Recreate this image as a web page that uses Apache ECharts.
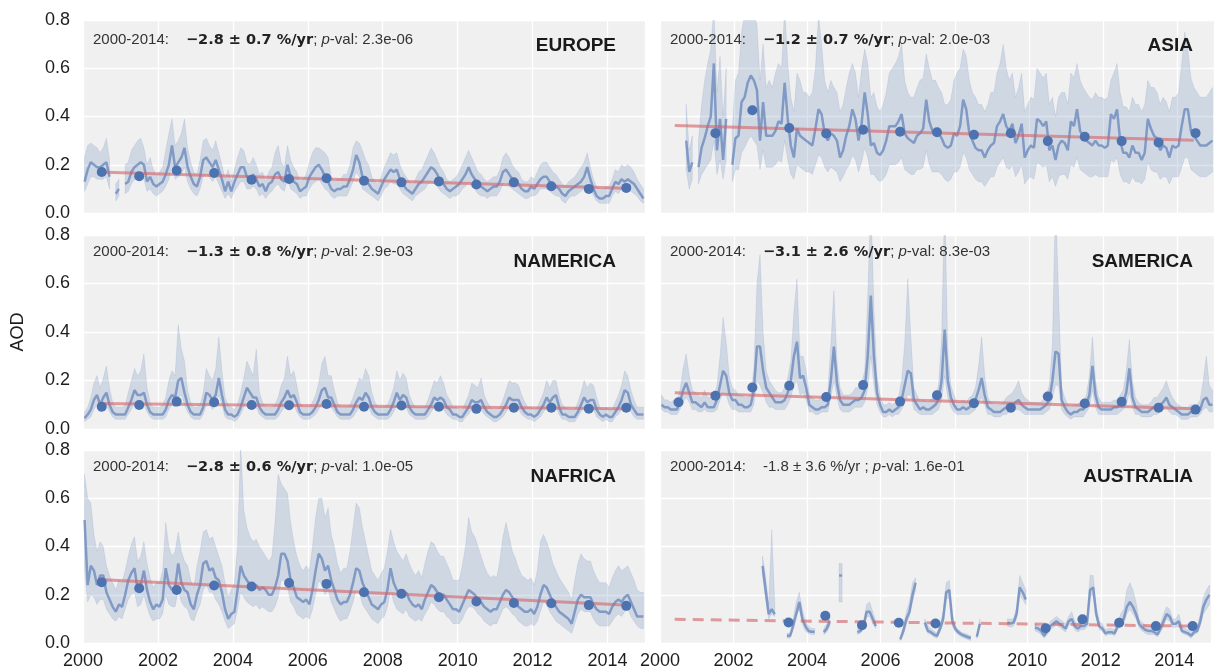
<!DOCTYPE html>
<html><head><meta charset="utf-8">
<script src="https://cdn.jsdelivr.net/npm/echarts@6/dist/echarts.min.js"></script>
<style>html,body{margin:0;padding:0;background:#fff}#c{width:1214px;height:671px}</style>
</head><body><div id="c"></div>
<script>
const N = null;
const xTickYears = [2000, 2002, 2004, 2006, 2008, 2010, 2012, 2014];
const yTicks = [0.0, 0.2, 0.4, 0.6, 0.8];
const dotYears = [2000.5,2001.5,2002.5,2003.5,2004.5,2005.5,2006.5,2007.5,2008.5,2009.5,2010.5,2011.5,2012.5,2013.5,2014.5];
const trendYears = [2000.4, 2014.45];

const regions = ['EUROPE','ASIA','NAMERICA','SAMERICA','NAFRICA','AUSTRALIA'];
const trendTexts = ['−2.8 ± 0.7 %/yr','−1.2 ± 0.7 %/yr','−1.3 ± 0.8 %/yr','−3.1 ± 2.6 %/yr','−2.8 ± 0.6 %/yr','-1.8 ± 3.6 %/yr'];
const pvalTexts = ['2.3e-06','2.0e-03','2.9e-03','8.3e-03','1.0e-05','1.6e-01'];
const significant = [true,true,true,true,true,false];

// ---------- EUROPE ----------
const eurMean = [
0.13,0.18,0.21,0.20,0.19,0.19,0.20,0.21,0.15,N,0.08,0.10,
N,0.12,0.13,0.17,0.19,0.20,0.21,0.20,0.13,0.15,0.12,0.11,
0.12,0.13,0.16,0.20,0.28,0.19,0.21,0.23,0.27,0.19,0.15,0.12,
0.11,0.15,0.22,0.23,0.21,0.19,0.22,0.18,0.14,0.09,0.13,0.09,
0.13,0.16,0.19,0.19,0.15,0.14,0.16,0.14,0.11,0.12,0.09,0.12,
0.13,0.16,0.17,0.14,0.13,0.20,0.15,0.13,0.12,0.09,0.10,0.11,
0.15,0.17,0.19,0.20,0.18,0.15,0.13,0.10,0.09,0.10,0.10,0.11,
0.11,0.14,0.18,0.24,0.21,0.15,0.13,0.12,0.10,0.09,0.08,0.11,
0.14,0.16,0.18,0.17,0.18,0.14,0.12,0.10,0.09,0.08,0.10,0.12,
0.13,0.15,0.17,0.19,0.18,0.16,0.13,0.12,0.10,0.09,0.10,0.11,
0.12,0.14,0.16,0.19,0.16,0.14,0.12,0.11,0.10,0.09,0.10,0.11,
0.11,0.13,0.17,0.18,0.16,0.14,0.13,0.12,0.10,0.09,0.09,0.11,
0.10,0.12,0.14,0.15,0.15,0.13,0.12,0.11,0.10,0.08,0.07,0.09,
0.10,0.11,0.12,0.13,0.15,0.19,0.14,0.10,0.07,0.06,0.06,0.07,
0.07,0.10,0.13,0.12,0.14,0.13,0.14,0.13,0.12,0.10,0.08,0.06];
const eurUp = [
0.23,0.28,0.29,0.28,0.27,0.25,0.27,0.31,0.22,N,0.12,0.14,
N,0.20,0.21,0.26,0.28,0.30,0.31,0.27,0.20,0.23,0.18,0.16,
0.17,0.19,0.26,0.33,0.39,0.28,0.30,0.33,0.39,0.27,0.21,0.17,
0.16,0.22,0.30,0.31,0.28,0.26,0.30,0.25,0.20,0.14,0.18,0.13,
0.18,0.23,0.27,0.26,0.21,0.20,0.23,0.20,0.16,0.17,0.13,0.17,
0.19,0.25,0.28,0.21,0.19,0.28,0.22,0.19,0.17,0.13,0.14,0.16,
0.21,0.25,0.27,0.27,0.26,0.25,0.23,0.15,0.13,0.14,0.14,0.16,
0.16,0.20,0.27,0.30,0.29,0.26,0.22,0.20,0.15,0.13,0.12,0.15,
0.19,0.22,0.25,0.24,0.25,0.20,0.17,0.15,0.13,0.12,0.14,0.17,
0.18,0.21,0.24,0.27,0.25,0.22,0.19,0.17,0.14,0.13,0.14,0.15,
0.17,0.20,0.23,0.26,0.23,0.20,0.17,0.16,0.14,0.13,0.14,0.15,
0.15,0.18,0.23,0.25,0.23,0.20,0.18,0.17,0.14,0.13,0.13,0.15,
0.14,0.17,0.20,0.21,0.21,0.19,0.17,0.16,0.14,0.12,0.11,0.13,
0.14,0.15,0.17,0.19,0.21,0.25,0.19,0.14,0.11,0.10,0.10,0.11,
0.11,0.14,0.18,0.17,0.20,0.19,0.20,0.19,0.17,0.14,0.12,0.10];
const eurLo = [
0.09,0.12,0.15,0.15,0.14,0.14,0.14,0.15,0.10,N,0.05,0.07,
N,0.08,0.09,0.12,0.14,0.14,0.15,0.14,0.09,0.10,0.08,0.07,
0.08,0.09,0.11,0.14,0.20,0.14,0.15,0.16,0.19,0.13,0.10,0.08,
0.07,0.10,0.15,0.16,0.15,0.13,0.15,0.12,0.09,0.06,0.08,0.06,
0.09,0.11,0.13,0.13,0.10,0.10,0.11,0.10,0.07,0.08,0.06,0.08,
0.09,0.11,0.12,0.10,0.09,0.14,0.10,0.09,0.08,0.06,0.07,0.07,
0.10,0.12,0.13,0.14,0.12,0.10,0.09,0.07,0.06,0.07,0.07,0.07,
0.07,0.10,0.13,0.17,0.15,0.10,0.09,0.08,0.07,0.06,0.05,0.07,
0.10,0.11,0.13,0.12,0.12,0.10,0.08,0.07,0.06,0.05,0.07,0.08,
0.09,0.10,0.12,0.13,0.12,0.11,0.09,0.08,0.07,0.06,0.07,0.07,
0.08,0.10,0.11,0.13,0.11,0.10,0.08,0.07,0.07,0.06,0.07,0.07,
0.07,0.09,0.12,0.13,0.11,0.10,0.09,0.08,0.07,0.06,0.06,0.07,
0.07,0.08,0.10,0.10,0.10,0.09,0.08,0.07,0.07,0.05,0.04,0.06,
0.07,0.07,0.08,0.09,0.10,0.13,0.10,0.07,0.05,0.04,0.04,0.04,
0.04,0.07,0.09,0.08,0.10,0.09,0.10,0.09,0.08,0.07,0.05,0.04];
const eurDots = [0.170,0.152,0.176,0.166,0.138,0.141,0.144,0.134,0.127,0.131,0.118,0.127,0.111,0.100,0.104];
const eurTrend = [0.170, 0.103];

// ---------- ASIA ----------
const asiaMean = [
N,N,N,N,N,N,N,N,0.30,0.17,0.21,N,
0.19,0.27,0.31,0.36,0.40,0.62,0.26,0.39,0.22,0.39,N,0.20,
0.31,0.32,0.46,0.48,0.54,0.57,0.55,0.51,0.30,0.46,0.32,0.32,
0.32,0.34,0.38,0.37,0.54,0.39,0.28,0.23,0.35,0.32,0.31,0.30,
0.29,0.28,0.35,0.43,0.41,0.33,0.30,0.33,0.32,0.30,0.23,0.26,
0.32,0.36,0.43,0.39,0.30,0.37,0.50,0.41,0.28,0.29,0.25,0.24,
0.26,0.30,0.36,0.36,0.36,0.38,0.41,0.33,0.31,0.30,0.29,0.32,
0.33,0.35,0.47,0.38,0.34,0.33,0.33,0.31,0.28,0.27,0.28,0.33,
0.32,0.36,0.47,0.43,0.33,0.30,0.27,0.26,0.26,0.23,0.26,0.28,
0.29,0.36,0.38,0.41,0.36,0.34,0.37,0.29,0.32,0.37,0.23,0.26,
0.28,0.27,0.39,0.38,0.36,0.38,0.26,0.28,0.22,0.28,0.30,0.29,
0.26,0.38,0.36,0.43,0.34,0.32,0.30,0.29,0.28,0.30,0.28,0.28,
0.27,0.28,0.41,0.39,0.43,0.30,0.25,0.25,0.23,0.28,0.25,0.25,
0.22,0.25,0.39,0.35,0.32,0.31,0.26,0.28,0.27,0.23,0.28,0.27,
0.28,0.36,0.43,0.43,0.34,0.32,0.30,0.28,0.28,0.28,0.29,0.30];
const asiaUp = [
N,N,N,N,N,N,N,N,0.45,0.26,0.32,N,
0.30,0.45,0.55,0.62,0.68,0.85,0.50,0.65,0.40,0.60,N,0.35,
0.55,0.58,0.75,0.82,0.80,0.85,0.82,0.78,0.55,0.70,0.52,0.55,
0.52,0.58,0.62,0.60,0.85,0.62,0.48,0.42,0.58,0.55,0.50,0.50,
0.48,0.50,0.60,0.82,0.70,0.55,0.50,0.55,0.52,0.50,0.42,0.45,
0.52,0.58,0.62,0.58,0.48,0.60,0.68,0.62,0.48,0.50,0.44,0.42,
0.45,0.50,0.58,0.60,0.62,0.65,0.70,0.55,0.50,0.48,0.48,0.52,
0.55,0.56,0.66,0.60,0.55,0.55,0.52,0.50,0.45,0.45,0.47,0.55,
0.58,0.60,0.68,0.65,0.55,0.50,0.48,0.45,0.45,0.42,0.45,0.50,
0.50,0.58,0.62,0.70,0.60,0.55,0.58,0.48,0.52,0.58,0.42,0.45,
0.48,0.47,0.60,0.58,0.56,0.58,0.45,0.48,0.40,0.48,0.50,0.50,
0.45,0.58,0.56,0.62,0.55,0.52,0.50,0.48,0.47,0.50,0.48,0.48,
0.47,0.48,0.55,0.58,0.62,0.50,0.44,0.44,0.42,0.48,0.45,0.45,
0.42,0.45,0.55,0.52,0.52,0.50,0.45,0.48,0.46,0.42,0.48,0.48,
0.50,0.62,0.75,0.68,0.56,0.52,0.50,0.48,0.48,0.48,0.50,0.52];
const asiaLo = [
N,N,N,N,N,N,N,N,0.18,0.10,0.14,N,
0.12,0.16,0.18,0.20,0.22,0.30,0.16,0.22,0.14,0.22,N,0.13,
0.18,0.18,0.25,0.27,0.30,0.32,0.30,0.28,0.18,0.26,0.19,0.19,
0.19,0.20,0.22,0.21,0.30,0.22,0.16,0.14,0.20,0.19,0.18,0.17,
0.17,0.16,0.20,0.24,0.23,0.19,0.17,0.19,0.18,0.17,0.13,0.15,
0.18,0.20,0.24,0.22,0.17,0.21,0.27,0.23,0.16,0.16,0.14,0.13,
0.14,0.16,0.20,0.20,0.20,0.21,0.23,0.18,0.17,0.16,0.16,0.18,
0.18,0.19,0.26,0.20,0.17,0.17,0.17,0.16,0.14,0.13,0.14,0.17,
0.17,0.19,0.25,0.23,0.18,0.16,0.14,0.13,0.13,0.11,0.13,0.15,
0.15,0.19,0.21,0.23,0.19,0.18,0.20,0.15,0.17,0.20,0.12,0.14,
0.15,0.14,0.21,0.20,0.19,0.20,0.13,0.15,0.11,0.15,0.16,0.16,
0.14,0.20,0.19,0.23,0.18,0.17,0.16,0.15,0.15,0.16,0.15,0.15,
0.15,0.15,0.22,0.21,0.23,0.16,0.13,0.13,0.12,0.15,0.13,0.13,
0.12,0.14,0.21,0.18,0.17,0.17,0.14,0.15,0.15,0.12,0.15,0.15,
0.15,0.19,0.23,0.23,0.18,0.17,0.16,0.15,0.15,0.15,0.16,0.17];
const asiaDots = [N,0.331,0.426,0.352,0.330,0.345,0.337,0.335,0.324,0.331,0.298,0.316,0.298,0.292,0.331];
const asiaTrend = [0.363, 0.302];

// ---------- NAMERICA ----------
const namMean = [
0.045,0.06,0.08,0.12,0.14,0.10,0.13,0.15,0.10,0.07,0.06,0.06,
0.06,0.06,0.09,0.12,0.16,0.14,0.14,0.15,0.10,0.07,0.06,0.06,
0.06,0.06,0.08,0.12,0.14,0.13,0.20,0.21,0.15,0.10,0.07,0.06,
0.06,0.06,0.09,0.15,0.14,0.12,0.14,0.21,0.14,0.08,0.06,0.06,
0.05,0.06,0.09,0.13,0.17,0.15,0.13,0.13,0.09,0.07,0.06,0.06,
0.06,0.06,0.08,0.11,0.13,0.16,0.13,0.14,0.11,0.07,0.06,0.06,
0.06,0.07,0.09,0.12,0.16,0.17,0.13,0.13,0.10,0.07,0.06,0.06,
0.06,0.06,0.08,0.11,0.13,0.12,0.15,0.13,0.09,0.07,0.06,0.06,
0.06,0.06,0.08,0.11,0.15,0.12,0.14,0.13,0.09,0.07,0.06,0.06,
0.06,0.06,0.08,0.10,0.13,0.12,0.13,0.12,0.09,0.08,0.06,0.06,
0.05,0.05,0.07,0.09,0.12,0.11,0.11,0.12,0.09,0.07,0.06,0.05,
0.05,0.06,0.08,0.10,0.13,0.12,0.12,0.12,0.09,0.07,0.06,0.06,
0.05,0.06,0.08,0.10,0.13,0.11,0.13,0.14,0.09,0.06,0.06,0.05,
0.05,0.05,0.07,0.10,0.13,0.11,0.12,0.12,0.08,0.06,0.05,0.06,
0.05,0.05,0.07,0.09,0.12,0.16,0.15,0.10,0.08,0.06,0.06,0.06];
const namUp = [
0.07,0.09,0.13,0.19,0.22,0.17,0.21,0.26,0.17,0.11,0.09,0.09,
0.09,0.10,0.15,0.20,0.25,0.22,0.24,0.31,0.17,0.11,0.09,0.09,
0.09,0.10,0.13,0.20,0.24,0.22,0.43,0.33,0.28,0.16,0.11,0.09,
0.09,0.10,0.15,0.25,0.22,0.20,0.25,0.38,0.24,0.13,0.10,0.09,
0.08,0.10,0.15,0.21,0.28,0.25,0.22,0.33,0.15,0.11,0.09,0.09,
0.09,0.10,0.13,0.18,0.21,0.30,0.22,0.24,0.18,0.11,0.09,0.09,
0.09,0.11,0.14,0.19,0.27,0.30,0.22,0.22,0.16,0.11,0.09,0.09,
0.09,0.10,0.13,0.17,0.21,0.20,0.25,0.22,0.15,0.11,0.09,0.09,
0.09,0.10,0.13,0.17,0.24,0.20,0.23,0.21,0.14,0.11,0.09,0.09,
0.09,0.09,0.12,0.16,0.20,0.19,0.22,0.19,0.14,0.12,0.09,0.09,
0.08,0.08,0.11,0.14,0.19,0.18,0.17,0.21,0.14,0.11,0.09,0.08,
0.08,0.09,0.12,0.16,0.20,0.19,0.19,0.18,0.14,0.11,0.09,0.09,
0.08,0.09,0.12,0.15,0.20,0.17,0.20,0.20,0.14,0.10,0.09,0.08,
0.08,0.08,0.11,0.15,0.20,0.17,0.19,0.18,0.13,0.09,0.08,0.09,
0.08,0.08,0.11,0.14,0.18,0.24,0.22,0.16,0.12,0.09,0.09,0.09];
const namLo = [
0.03,0.04,0.05,0.08,0.10,0.07,0.09,0.10,0.07,0.05,0.04,0.04,
0.04,0.04,0.06,0.08,0.11,0.10,0.10,0.10,0.07,0.05,0.04,0.04,
0.04,0.04,0.05,0.08,0.10,0.09,0.13,0.14,0.10,0.07,0.05,0.04,
0.04,0.04,0.06,0.10,0.10,0.08,0.10,0.14,0.10,0.05,0.04,0.04,
0.03,0.04,0.06,0.09,0.12,0.10,0.09,0.09,0.06,0.05,0.04,0.04,
0.04,0.04,0.05,0.07,0.09,0.11,0.09,0.10,0.07,0.05,0.04,0.04,
0.04,0.05,0.06,0.08,0.11,0.12,0.09,0.09,0.07,0.05,0.04,0.04,
0.04,0.04,0.05,0.07,0.09,0.08,0.10,0.09,0.06,0.05,0.04,0.04,
0.04,0.04,0.05,0.07,0.10,0.08,0.10,0.09,0.06,0.05,0.04,0.04,
0.04,0.04,0.05,0.07,0.09,0.08,0.09,0.08,0.06,0.05,0.04,0.04,
0.03,0.03,0.05,0.06,0.08,0.07,0.07,0.08,0.06,0.05,0.04,0.03,
0.03,0.04,0.05,0.07,0.09,0.08,0.08,0.08,0.06,0.05,0.04,0.04,
0.03,0.04,0.05,0.07,0.09,0.07,0.09,0.09,0.06,0.04,0.04,0.03,
0.03,0.03,0.05,0.07,0.09,0.07,0.08,0.08,0.05,0.04,0.03,0.04,
0.03,0.03,0.05,0.06,0.08,0.11,0.10,0.07,0.05,0.04,0.04,0.04];
const namDots = [0.092,0.099,0.113,0.110,0.099,0.098,0.103,0.092,0.097,0.092,0.083,0.088,0.088,0.084,0.088];
const namTrend = [0.105, 0.083];

// ---------- SAMERICA ----------
const samMean = [
0.10,0.09,0.09,0.08,0.08,0.08,0.11,0.16,0.19,0.15,0.11,0.11,
0.10,0.09,0.11,0.09,0.09,0.09,0.12,0.18,0.24,0.22,0.15,0.12,
0.12,0.10,0.10,0.09,0.09,0.10,0.16,0.34,0.34,0.24,0.17,0.15,
0.13,0.11,0.11,0.11,0.12,0.15,0.20,0.30,0.36,0.21,0.22,0.17,
0.10,0.09,0.08,0.08,0.09,0.09,0.10,0.20,0.34,0.19,0.12,0.10,
0.10,0.10,0.11,0.12,0.12,0.13,0.16,0.30,0.55,0.30,0.15,0.10,
0.07,0.07,0.08,0.07,0.08,0.09,0.12,0.18,0.24,0.23,0.12,0.10,
0.08,0.09,0.08,0.08,0.09,0.10,0.12,0.20,0.41,0.20,0.13,0.10,
0.08,0.08,0.09,0.08,0.09,0.10,0.12,0.16,0.21,0.14,0.09,0.08,
0.07,0.07,0.07,0.08,0.09,0.10,0.10,0.11,0.12,0.10,0.09,0.08,
0.08,0.08,0.08,0.08,0.09,0.10,0.12,0.20,0.32,0.31,0.12,0.09,
0.07,0.06,0.07,0.07,0.08,0.08,0.10,0.14,0.26,0.14,0.09,0.08,
0.08,0.08,0.08,0.09,0.09,0.10,0.11,0.15,0.25,0.13,0.09,0.08,
0.07,0.07,0.07,0.08,0.09,0.09,0.10,0.11,0.13,0.10,0.09,0.08,
0.07,0.06,0.06,0.06,0.07,0.07,0.07,0.08,0.12,0.13,0.10,0.10];
const samUp = [
0.14,0.12,0.12,0.11,0.12,0.11,0.16,0.25,0.31,0.22,0.16,0.15,
0.14,0.13,0.16,0.13,0.13,0.13,0.18,0.30,0.46,0.36,0.22,0.17,
0.16,0.14,0.14,0.13,0.13,0.14,0.25,0.60,0.72,0.40,0.24,0.20,
0.18,0.16,0.15,0.15,0.17,0.21,0.28,0.48,0.62,0.30,0.30,0.24,
0.14,0.13,0.12,0.12,0.13,0.13,0.15,0.35,0.57,0.28,0.17,0.14,
0.14,0.14,0.15,0.17,0.17,0.19,0.24,0.55,0.95,0.50,0.22,0.14,
0.10,0.10,0.11,0.10,0.11,0.13,0.20,0.35,0.62,0.38,0.17,0.14,
0.11,0.12,0.11,0.11,0.13,0.14,0.18,0.38,0.95,0.32,0.18,0.14,
0.11,0.11,0.12,0.11,0.13,0.14,0.17,0.26,0.38,0.22,0.13,0.11,
0.10,0.10,0.10,0.11,0.13,0.14,0.15,0.17,0.20,0.15,0.13,0.12,
0.11,0.11,0.11,0.11,0.12,0.14,0.18,0.35,0.95,0.55,0.17,0.13,
0.10,0.09,0.10,0.10,0.11,0.11,0.14,0.22,0.38,0.20,0.13,0.11,
0.11,0.11,0.11,0.12,0.12,0.14,0.16,0.24,0.37,0.20,0.13,0.11,
0.10,0.10,0.10,0.11,0.13,0.13,0.15,0.17,0.20,0.16,0.13,0.11,
0.10,0.09,0.09,0.09,0.10,0.10,0.10,0.12,0.20,0.30,0.18,0.16];
const samLo = [
0.08,0.07,0.07,0.06,0.06,0.06,0.08,0.11,0.13,0.11,0.08,0.08,
0.07,0.07,0.08,0.07,0.07,0.07,0.08,0.12,0.15,0.14,0.10,0.08,
0.08,0.07,0.07,0.07,0.07,0.07,0.10,0.20,0.18,0.15,0.11,0.09,
0.09,0.08,0.08,0.08,0.08,0.10,0.13,0.18,0.20,0.14,0.15,0.12,
0.07,0.07,0.06,0.06,0.07,0.07,0.07,0.13,0.20,0.13,0.08,0.07,
0.07,0.07,0.08,0.09,0.09,0.09,0.11,0.17,0.30,0.18,0.10,0.07,
0.05,0.05,0.06,0.05,0.06,0.06,0.08,0.11,0.14,0.14,0.08,0.07,
0.06,0.06,0.06,0.06,0.06,0.07,0.08,0.12,0.22,0.13,0.09,0.07,
0.06,0.06,0.06,0.06,0.06,0.07,0.08,0.11,0.13,0.10,0.06,0.06,
0.05,0.05,0.05,0.06,0.06,0.07,0.07,0.08,0.08,0.07,0.06,0.06,
0.06,0.06,0.06,0.06,0.06,0.07,0.08,0.13,0.18,0.18,0.08,0.06,
0.05,0.04,0.05,0.05,0.05,0.05,0.07,0.09,0.16,0.09,0.06,0.06,
0.06,0.06,0.06,0.06,0.06,0.07,0.08,0.10,0.15,0.09,0.06,0.06,
0.05,0.05,0.05,0.05,0.06,0.06,0.07,0.08,0.09,0.07,0.06,0.06,
0.05,0.04,0.04,0.04,0.05,0.05,0.05,0.06,0.08,0.09,0.07,0.07];
const samDots = [0.110,0.137,0.171,0.178,0.132,0.181,0.113,0.139,0.106,0.088,0.134,0.105,0.112,0.088,0.080];
const samTrend = [0.149, 0.084];

// ---------- NAFRICA ----------
const nafMean = [
0.51,0.24,0.32,0.30,0.24,0.28,0.28,0.21,0.18,0.15,0.13,0.16,
0.15,0.20,0.26,0.29,0.31,0.22,0.24,0.30,0.22,0.17,0.14,0.16,
0.15,0.18,0.31,0.24,0.22,0.23,0.33,0.25,0.22,0.21,0.16,0.14,
0.20,0.24,0.33,0.34,0.30,0.31,0.27,0.26,0.21,0.14,0.10,0.12,
0.13,0.22,0.32,0.28,0.26,0.24,0.23,0.24,0.22,0.23,0.22,0.20,
0.20,0.23,0.28,0.37,0.37,0.34,0.26,0.23,0.19,0.18,0.17,0.18,
0.16,0.22,0.30,0.37,0.35,0.30,0.32,0.26,0.22,0.18,0.16,0.17,
0.17,0.20,0.25,0.31,0.30,0.25,0.22,0.19,0.16,0.15,0.14,0.16,
0.17,0.22,0.31,0.25,0.22,0.20,0.19,0.21,0.18,0.16,0.15,0.16,
0.14,0.18,0.21,0.24,0.23,0.21,0.20,0.20,0.18,0.16,0.14,0.14,
0.13,0.16,0.19,0.22,0.21,0.20,0.18,0.17,0.15,0.14,0.13,0.14,
0.14,0.17,0.20,0.22,0.21,0.19,0.17,0.15,0.14,0.13,0.13,0.14,
0.12,0.15,0.20,0.24,0.23,0.20,0.17,0.15,0.13,0.12,0.11,0.10,
0.08,0.13,0.18,0.20,0.19,0.19,0.19,0.16,0.14,0.13,0.13,0.13,
0.12,0.15,0.17,0.18,0.17,0.19,0.20,0.17,0.14,0.11,0.11,0.11];
const nafUp = [
0.70,0.60,0.58,0.45,0.38,0.42,0.40,0.32,0.28,0.25,0.22,0.26,
0.25,0.30,0.36,0.41,0.44,0.34,0.36,0.42,0.33,0.27,0.23,0.25,
0.25,0.30,0.50,0.40,0.36,0.38,0.46,0.38,0.34,0.32,0.26,0.23,
0.32,0.38,0.46,0.47,0.43,0.44,0.40,0.36,0.32,0.25,0.19,0.22,
0.25,0.40,0.82,0.55,0.48,0.44,0.42,0.43,0.40,0.38,0.36,0.34,
0.36,0.50,0.70,0.66,0.64,0.62,0.50,0.42,0.36,0.32,0.30,0.32,
0.30,0.40,0.52,0.60,0.60,0.52,0.56,0.45,0.40,0.33,0.29,0.31,
0.31,0.38,0.48,0.58,0.56,0.48,0.42,0.36,0.30,0.28,0.26,0.29,
0.31,0.38,0.47,0.42,0.38,0.36,0.34,0.37,0.33,0.30,0.28,0.30,
0.27,0.33,0.38,0.42,0.41,0.38,0.36,0.36,0.33,0.30,0.26,0.26,
0.26,0.32,0.40,0.52,0.46,0.44,0.40,0.36,0.32,0.29,0.27,0.28,
0.27,0.34,0.44,0.50,0.44,0.38,0.35,0.31,0.28,0.27,0.26,0.27,
0.24,0.30,0.42,0.45,0.42,0.38,0.33,0.30,0.27,0.25,0.23,0.21,
0.18,0.26,0.33,0.37,0.35,0.34,0.34,0.30,0.27,0.25,0.25,0.25,
0.23,0.27,0.30,0.32,0.30,0.31,0.32,0.29,0.26,0.22,0.21,0.21];
const nafLo = [
0.30,0.17,0.20,0.19,0.16,0.18,0.18,0.14,0.12,0.10,0.09,0.11,
0.10,0.14,0.18,0.20,0.21,0.15,0.16,0.20,0.15,0.11,0.09,0.10,
0.10,0.12,0.20,0.16,0.15,0.15,0.22,0.17,0.15,0.14,0.10,0.09,
0.13,0.16,0.22,0.24,0.21,0.21,0.18,0.16,0.13,0.09,0.06,0.07,
0.08,0.14,0.21,0.19,0.17,0.16,0.15,0.16,0.14,0.15,0.14,0.13,
0.13,0.15,0.19,0.26,0.26,0.23,0.17,0.15,0.12,0.11,0.10,0.11,
0.10,0.14,0.20,0.26,0.24,0.20,0.22,0.17,0.14,0.11,0.09,0.10,
0.10,0.13,0.17,0.22,0.21,0.16,0.14,0.12,0.10,0.09,0.08,0.10,
0.11,0.15,0.22,0.17,0.14,0.13,0.12,0.14,0.11,0.10,0.09,0.10,
0.09,0.12,0.14,0.17,0.16,0.14,0.13,0.13,0.11,0.10,0.08,0.08,
0.08,0.10,0.13,0.15,0.15,0.14,0.12,0.11,0.09,0.08,0.07,0.08,
0.08,0.11,0.14,0.15,0.14,0.12,0.11,0.09,0.08,0.07,0.07,0.08,
0.07,0.09,0.13,0.17,0.16,0.13,0.11,0.09,0.08,0.07,0.06,0.05,
0.04,0.08,0.12,0.14,0.13,0.13,0.13,0.10,0.08,0.07,0.07,0.07,
0.07,0.09,0.11,0.12,0.11,0.13,0.14,0.11,0.09,0.07,0.06,0.06];
const nafDots = [0.252,0.227,0.220,0.238,0.234,0.249,0.245,0.210,0.204,0.190,0.172,0.166,0.165,0.157,0.154];
const nafTrend = [0.263, 0.158];

// ---------- AUSTRALIA ----------
const ausMean = [
N,N,N,N,N,N,N,N,N,N,N,N,
N,N,N,N,N,N,N,N,N,N,N,N,
N,N,N,N,N,N,N,N,N,0.32,0.22,0.12,
0.14,0.12,N,N,N,0.03,0.03,0.07,0.12,0.17,0.10,0.07,
0.05,0.047,0.047,N,N,0.045,0.06,0.09,N,N,0.28,0.28,
N,N,N,N,0.045,0.05,0.07,0.13,0.13,0.10,0.07,N,
N,N,N,N,N,N,0.015,0.05,0.10,0.13,0.20,0.25,
N,N,0.085,0.05,0.045,0.035,0.03,0.06,0.10,0.21,0.22,0.09,
0.058,0.044,0.035,0.03,0.025,0.02,N,0.026,0.08,N,N,N,
N,N,N,N,N,0.085,0.08,0.085,0.12,0.23,0.21,0.18,
N,N,0.065,0.06,0.05,0.03,0.05,0.07,0.08,0.09,0.08,0.07,
0.06,0.09,0.10,0.07,0.06,0.07,0.07,0.08,0.22,0.23,0.12,0.07,
0.06,0.04,0.045,0.045,0.04,0.07,0.09,0.10,0.15,0.17,0.15,0.12,
0.08,0.065,0.055,0.05,0.05,0.045,0.035,0.06,0.09,0.12,0.11,0.08,
0.08,0.09,0.05,0.045,0.04,0.03,0.045,0.05,0.09,0.15,0.18,0.20];
const ausUp = [
N,N,N,N,N,N,N,N,N,N,N,N,
N,N,N,N,N,N,N,N,N,N,N,N,
N,N,N,N,N,N,N,N,N,0.36,0.28,0.16,
0.47,0.16,N,N,N,0.04,0.04,0.10,0.17,0.21,0.14,0.09,
0.07,0.06,0.06,N,N,0.06,0.08,0.11,N,N,0.33,0.33,
N,N,N,N,0.06,0.07,0.09,0.16,0.17,0.13,0.09,N,
N,N,N,N,N,N,0.025,0.07,0.13,0.17,0.25,0.27,
N,N,0.10,0.07,0.06,0.05,0.04,0.08,0.13,0.25,0.26,0.12,
0.07,0.055,0.045,0.04,0.035,0.03,N,0.035,0.10,N,N,N,
N,N,N,N,N,0.10,0.10,0.10,0.15,0.28,0.25,0.22,
N,N,0.08,0.075,0.065,0.045,0.065,0.09,0.10,0.11,0.10,0.09,
0.08,0.11,0.13,0.09,0.08,0.09,0.09,0.11,0.28,0.28,0.15,0.09,
0.08,0.055,0.06,0.06,0.055,0.09,0.12,0.14,0.22,0.25,0.22,0.17,
0.10,0.085,0.075,0.07,0.07,0.06,0.05,0.08,0.12,0.15,0.14,0.10,
0.10,0.12,0.07,0.06,0.055,0.045,0.06,0.07,0.12,0.19,0.22,0.24];
const ausLo = [
N,N,N,N,N,N,N,N,N,N,N,N,
N,N,N,N,N,N,N,N,N,N,N,N,
N,N,N,N,N,N,N,N,N,0.28,0.18,0.10,
0.12,0.11,N,N,N,0.02,0.02,0.06,0.11,0.14,0.08,0.05,
0.04,0.035,0.035,N,N,0.035,0.045,0.07,N,N,0.17,0.17,
N,N,N,N,0.035,0.04,0.06,0.11,0.11,0.08,0.06,N,
N,N,N,N,N,N,0.01,0.035,0.08,0.11,0.17,0.22,
N,N,0.07,0.04,0.035,0.025,0.02,0.045,0.08,0.18,0.19,0.07,
0.045,0.035,0.025,0.02,0.015,0.01,N,0.018,0.065,N,N,N,
N,N,N,N,N,0.07,0.065,0.07,0.10,0.20,0.18,0.16,
N,N,0.05,0.045,0.035,0.02,0.035,0.055,0.065,0.075,0.065,0.055,
0.045,0.075,0.08,0.055,0.045,0.055,0.055,0.065,0.19,0.20,0.10,0.055,
0.05,0.03,0.035,0.035,0.03,0.055,0.07,0.08,0.12,0.14,0.12,0.10,
0.065,0.05,0.04,0.035,0.035,0.035,0.025,0.045,0.07,0.10,0.09,0.065,
0.065,0.07,0.04,0.035,0.03,0.02,0.035,0.04,0.07,0.12,0.14,0.16];
const ausDots = [N,N,N,0.085,0.113,0.074,0.084,0.081,N,N,0.061,0.098,0.084,0.070,0.070];
const ausTrend = [0.098, 0.070];

// month positions (mid-month, decimal years)
const months = eurMean.map((_, i) => 2000 + (i + 0.5) / 12);

const panels = [
  { mean: eurMean, up: eurUp, lo: eurLo, dots: eurDots, trend: eurTrend },
  { mean: asiaMean, up: asiaUp, lo: asiaLo, dots: asiaDots, trend: asiaTrend },
  { mean: namMean, up: namUp, lo: namLo, dots: namDots, trend: namTrend },
  { mean: samMean, up: samUp, lo: samLo, dots: samDots, trend: samTrend },
  { mean: nafMean, up: nafUp, lo: nafLo, dots: nafDots, trend: nafTrend },
  { mean: ausMean, up: ausUp, lo: ausLo, dots: ausDots, trend: ausTrend }
];

const BAND = 'rgba(76,114,176,0.2)';
const LINE = 'rgba(76,114,176,0.6)';
const DOT = '#4c72b0';
const TREND = 'rgba(212,100,105,0.62)';
const FONT = '"Liberation Sans", Arial, sans-serif';

const colLeft = [83, 660];
const rowTop = [20, 235, 450];
const rowH = [193, 194, 193];
const panelW = 562;

function bandRender(up, lo) {
  return function (params, api) {
    const children = [];
    let seg = [];
    const flush = () => {
      if (seg.length) {
        const pts = [];
        seg.forEach(i => pts.push(api.coord([months[i], up[i]])));
        for (let j = seg.length - 1; j >= 0; j--) pts.push(api.coord([months[seg[j]], lo[seg[j]]]));
        children.push({ type: 'polygon', shape: { points: pts }, style: { fill: BAND, stroke: BAND, lineWidth: 0.6 } });
      }
      seg = [];
    };
    for (let i = 0; i < months.length; i++) {
      if (up[i] == null || lo[i] == null) flush(); else seg.push(i);
    }
    flush();
    const cs = params.coordSys;
    return { type: 'group', children,
      clipPath: { type: 'rect', shape: { x: cs.x, y: cs.y, width: cs.width, height: cs.height } } };
  };
}

const grids = [], xAxes = [], yAxes = [], series = [], titles = [];
panels.forEach((p, k) => {
  const row = Math.floor(k / 2), col = k % 2;
  grids.push({ left: colLeft[col], top: rowTop[row], width: panelW, height: rowH[row],
    show: true, backgroundColor: '#f0f0f0', borderWidth: 0, containLabel: false });
  xAxes.push({ type: 'value', gridIndex: k, min: 2000, max: 2015, interval: 2,
    axisLine: { show: false }, axisTick: { show: false },
    axisLabel: { show: row === 2, fontSize: 18, fontFamily: FONT, color: '#1e1e1e', margin: 9,
      formatter: v => (xTickYears.indexOf(v) >= 0 ? String(v) : '') },
    splitLine: { show: true, lineStyle: { color: '#ffffff', width: 1.3 } } });
  yAxes.push({ type: 'value', gridIndex: k, min: 0, max: 0.8, interval: 0.2,
    axisLine: { show: false }, axisTick: { show: false },
    axisLabel: { show: col === 0, fontSize: 18, fontFamily: FONT, color: '#1e1e1e', margin: 13,
      formatter: v => (yTicks.some(t => Math.abs(t - v) < 1e-9) ? v.toFixed(1) : '') },
    splitLine: { show: true, lineStyle: { color: '#ffffff', width: 1.3 } },
    name: (k === 2 ? 'AOD' : ''), nameLocation: 'middle', nameGap: 56,
    nameTextStyle: { fontSize: 18, fontFamily: FONT, color: '#1e1e1e' } });

  series.push({ type: 'custom', xAxisIndex: k, yAxisIndex: k, silent: true, clip: true, z: 1,
    data: [[2000, 0]], encode: { x: 0, y: 1 }, renderItem: bandRender(p.up, p.lo) });
  series.push({ type: 'line', xAxisIndex: k, yAxisIndex: k, silent: true, z: 2,
    data: months.map((m, i) => [m, p.mean[i] == null ? '-' : p.mean[i]]),
    showSymbol: false, connectNulls: false, clip: true,
    lineStyle: { color: LINE, width: 2.5 } });
  series.push({ type: 'line', xAxisIndex: k, yAxisIndex: k, silent: true, z: 3,
    data: trendYears.map((y, i) => [y, p.trend[i]]), showSymbol: false,
    lineStyle: { color: TREND, width: 3, type: significant[k] ? 'solid' : [11, 7] } });
  series.push({ type: 'scatter', xAxisIndex: k, yAxisIndex: k, silent: true, z: 4,
    data: dotYears.map((y, i) => [y, p.dots[i]]).filter(d => d[1] != null),
    symbolSize: 10, itemStyle: { color: DOT, opacity: 1 } });

  const txtTop = [31, 243, 458][row];
  const sig = significant[k];
  titles.push({
    left: colLeft[col] + 10, top: txtTop, padding: 0,
    text: sig
      ? '{a|2000-2014:}{s|}{b|' + trendTexts[k] + '}{a|; }{i|p}{a|-val: ' + pvalTexts[k] + '}'
      : '{a|2000-2014:}{s|}{a|' + trendTexts[k] + ' ; }{i|p}{a|-val: ' + pvalTexts[k] + '}',
    textStyle: { fontWeight: 'normal', rich: {
      a: { fontFamily: FONT, fontWeight: 'normal', fontSize: 15, color: '#333', lineHeight: 18 },
      s: { width: 17, lineHeight: 18 },
      b: { fontFamily: '"DejaVu Sans", sans-serif', fontWeight: 'bold', fontSize: 14.5, color: '#222', lineHeight: 18 },
      i: { fontFamily: FONT, fontWeight: 'normal', fontStyle: 'italic', fontSize: 15, color: '#333', lineHeight: 18 }
    } }
  });
  titles.push({
    right: 1214 - (colLeft[col] + panelW - 29), top: [36, 252, 467][row], padding: 0,
    text: regions[k],
    textStyle: { fontFamily: FONT, fontWeight: 'bold', fontSize: 19, color: '#1a1a1a', lineHeight: 20 }
  });
});

const chart = echarts.init(document.getElementById('c'), null, { renderer: 'canvas' });
chart.setOption({
  animation: false,
  backgroundColor: '#ffffff',
  title: titles,
  grid: grids,
  xAxis: xAxes,
  yAxis: yAxes,
  series: series
});
</script>
</body></html>
